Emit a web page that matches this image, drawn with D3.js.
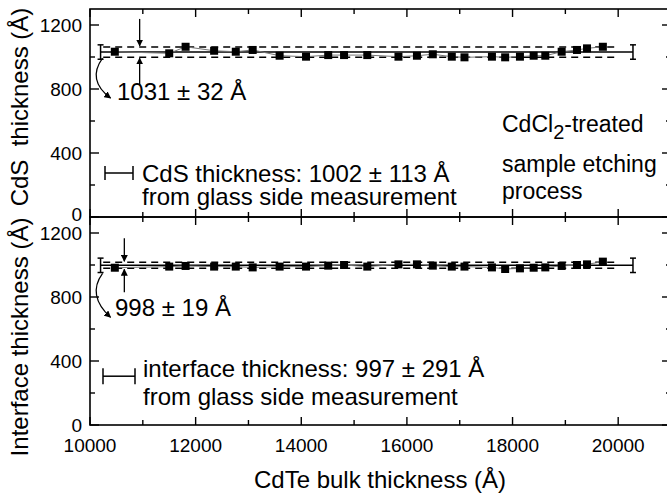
<!DOCTYPE html>
<html><head><meta charset="utf-8">
<script src="https://cdn.jsdelivr.net/npm/d3@7"></script>
<style>
body{margin:0;background:#fff;}
svg{display:block;font-family:"Liberation Sans",Arial,sans-serif;}
</style></head>
<body><svg id="c" width="667" height="495"></svg>
<script>
// ---- data ----
const bulkThickness = [10470, 11500, 11810, 12350, 12760, 13080, 13590, 14090, 14510, 14810, 15250, 15840, 16190, 16490, 16850, 17090, 17610, 17860, 18140, 18400, 18620, 18930, 19220, 19410, 19710];
const cdsThickness = [1033, 1023, 1064, 1039, 1033, 1044, 1008, 1002, 1012, 1012, 1012, 1002, 1008, 1017, 1002, 998, 1002, 998, 1002, 1008, 1008, 1033, 1044, 1054, 1064];
const interfaceThickness = [983, 990, 994, 990, 990, 985, 990, 990, 996, 1000, 990, 1004, 1004, 996, 990, 990, 985, 975, 979, 983, 985, 994, 1000, 1004, 1021];
const cdsMean = 1031, cdsStd = 32, cdsGlass = 1002, cdsGlassErr = 113;
const intMean = 998, intStd = 19, intGlass = 997, intGlassErr = 291;
const xTicks = [10000, 12000, 14000, 16000, 18000, 20000];
const yTicks = [0, 400, 800, 1200];

const svg = d3.select("#c");
const x = d3.scaleLinear().domain([10000, 21000]).range([90, 671]);
const yTop = d3.scaleLinear().domain([0, 1300]).range([217, 9]);
const yBot = d3.scaleLinear().domain([0, 1300]).range([425, 217]);

svg.append("defs").append("marker").attr("id","ah").attr("viewBox","0 0 10 10")
  .attr("refX",9).attr("refY",5).attr("markerWidth",7).attr("markerHeight",7)
  .attr("markerUnits","userSpaceOnUse").attr("orient","auto")
  .append("path").attr("d","M0,0L10,5L0,10Z").attr("fill","#000");

function panel(y, vals, mean, std, glassVal, cfg){
  const g = svg.append("g");
  g.append("rect").attr("x",x(10000)).attr("y",y(1300)).attr("width",x(21000)-x(10000))
   .attr("height",y(0)-y(1300)).attr("fill","none").attr("stroke","#000").attr("stroke-width",1.6);
  d3.range(10000, 21001, 1000).forEach(v=>{
    const L = v%2000===0 ? 8 : 5;
    g.append("line").attr("x1",x(v)).attr("x2",x(v)).attr("y1",y(0)).attr("y2",y(0)-L).attr("stroke","#000").attr("stroke-width",1.4);
    g.append("line").attr("x1",x(v)).attr("x2",x(v)).attr("y1",y(1300)).attr("y2",y(1300)+L).attr("stroke","#000").attr("stroke-width",1.4);
  });
  d3.range(0,1201,200).forEach(v=>{
    const L = v%400===0 ? 9 : 5;
    g.append("line").attr("x1",x(10000)).attr("x2",x(10000)+L).attr("y1",y(v)).attr("y2",y(v)).attr("stroke","#000").attr("stroke-width",1.4);
    g.append("line").attr("x1",x(21000)).attr("x2",x(21000)-L).attr("y1",y(v)).attr("y2",y(v)).attr("stroke","#000").attr("stroke-width",1.4);
  });
  yTicks.forEach(v=>{
    g.append("text").attr("x",82).attr("y",y(v)+(v===0?cfg.zeroOff:7)).attr("text-anchor","end").attr("font-size",19).text(v);
  });
  [mean+std, mean-std].forEach(v=>{
    g.append("line").attr("x1",x(10250)).attr("x2",x(20000)).attr("y1",y(v)).attr("y2",y(v))
     .attr("stroke","#000").attr("stroke-width",1.5).attr("stroke-dasharray","7,5");
  });
  g.append("line").attr("x1",x(10200)).attr("x2",x(20280)).attr("y1",y(mean)).attr("y2",y(mean)).attr("stroke","#000").attr("stroke-width",1.5);
  [10200, 20280].forEach(v=>{
    g.append("line").attr("x1",x(v)).attr("x2",x(v)).attr("y1",y(mean+cfg.eb)).attr("y2",y(mean-cfg.eb)).attr("stroke","#000").attr("stroke-width",1.5);
    [mean+cfg.eb, mean-cfg.eb].forEach(w=>g.append("line").attr("x1",x(v)-3).attr("x2",x(v)+3).attr("y1",y(w)).attr("y2",y(w)).attr("stroke","#000").attr("stroke-width",1.5));
  });
  g.append("path").datum(vals).attr("fill","none").attr("stroke","#777").attr("stroke-width",1)
   .attr("d", d3.line().x((d,i)=>x(bulkThickness[i])).y(d=>y(d)));
  g.selectAll("rect.pt").data(vals).join("rect").attr("class","pt")
   .attr("x",(d,i)=>x(bulkThickness[i])-4).attr("y",d=>y(d)-4).attr("width",8).attr("height",8).attr("fill","#000");
  const ax = x(cfg.arrowX);
  g.append("line").attr("x1",ax).attr("x2",ax).attr("y1",y(mean+std)-cfg.aLen).attr("y2",y(mean+std)-1).attr("stroke","#000").attr("stroke-width",1.3).attr("marker-end","url(#ah)");
  g.append("line").attr("x1",ax).attr("x2",ax).attr("y1",y(mean-std)+cfg.aLen).attr("y2",y(mean-std)+1).attr("stroke","#000").attr("stroke-width",1.3).attr("marker-end","url(#ah)");
  const sx = x(10200)+2, sy = y(mean)+cfg.cStart;
  g.append("path").attr("d",`M${sx},${sy} Q${sx-16},${sy+22} ${sx+8},${sy+cfg.cLen}`)
   .attr("fill","none").attr("stroke","#000").attr("stroke-width",1.2).attr("marker-end","url(#ah)");
  g.append("text").attr("x",cfg.annX).attr("y",cfg.annY).attr("font-size",24).text(`${mean} ± ${std} Å`);
  const ly = y(cfg.legY), lx1 = cfg.legX1, lx2 = cfg.legX2, lc = cfg.legCap;
  g.append("line").attr("x1",lx1).attr("x2",lx2).attr("y1",ly).attr("y2",ly).attr("stroke","#000").attr("stroke-width",1.5);
  [lx1,lx2].forEach(v=>g.append("line").attr("x1",v).attr("x2",v).attr("y1",ly-lc).attr("y2",ly+lc).attr("stroke","#000").attr("stroke-width",1.5));
  g.append("text").attr("x",cfg.txtX).attr("y",cfg.txtY1).attr("font-size",24).text(`${cfg.name} thickness: ${glassVal} ± ${cfg.glassErr} Å`);
  g.append("text").attr("x",cfg.txtX).attr("y",cfg.txtY2).attr("font-size",24).text("from glass side measurement");
}

panel(yTop, cdsThickness, cdsMean, cdsStd, cdsGlass, {eb:45, arrowX:10940, aLen:28, cStart:6, cLen:40, zeroOff:4,
  annX:117, annY:100, legY:275, legX1:105, legX2:133, legCap:7, txtX:142, txtY1:182, txtY2:205, name:"CdS", glassErr:cdsGlassErr});
panel(yBot, interfaceThickness, intMean, intStd, intGlass, {eb:45, arrowX:10650, aLen:24, cStart:8, cLen:44, zeroOff:7,
  annX:115, annY:316, legY:305, legX1:103, legX2:135, legCap:8, txtX:143, txtY1:377, txtY2:405, name:"interface", glassErr:intGlassErr});

xTicks.forEach(v=>svg.append("text").attr("x",x(v)).attr("y",452).attr("text-anchor","middle").attr("font-size",19).text(v));
svg.append("text").attr("x",380).attr("y",488).attr("text-anchor","middle").attr("font-size",24).text("CdTe bulk thickness (Å)");
svg.append("text").attr("transform","translate(28,107) rotate(-90)").attr("text-anchor","middle").attr("font-size",24)
  .style("white-space","pre").text("CdS  thickness (Å)");
svg.append("text").attr("transform","translate(28,337) rotate(-90)").attr("text-anchor","middle").attr("font-size",24).text("Interface thickness (Å)");
const note = svg.append("g").attr("font-size",23);
const t1 = note.append("text").attr("x",502).attr("y",132);
t1.append("tspan").text("CdCl");
t1.append("tspan").attr("dy",7).attr("font-size",20).text("2");
t1.append("tspan").attr("dy",-7).text("-treated");
note.append("text").attr("x",502).attr("y",172).text("sample etching");
note.append("text").attr("x",502).attr("y",199).text("process");
</script></body></html>
